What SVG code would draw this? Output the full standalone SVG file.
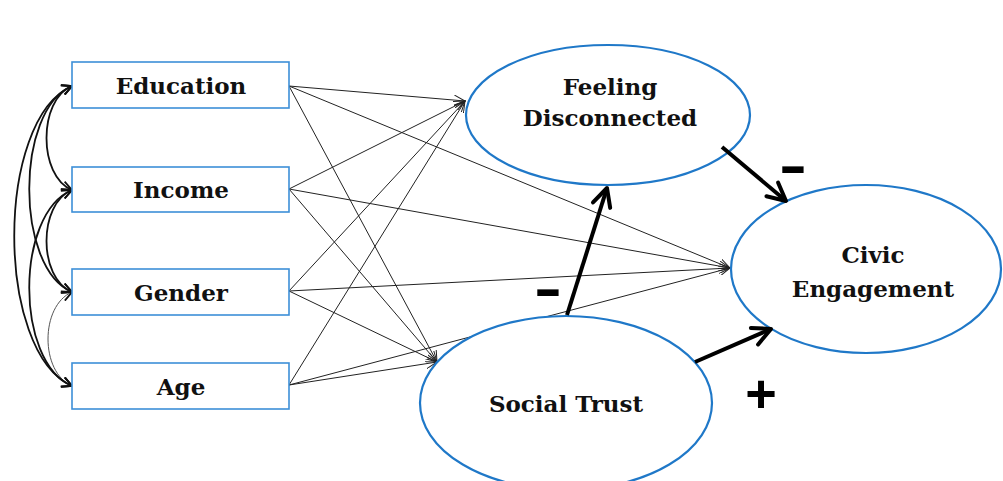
<svg xmlns="http://www.w3.org/2000/svg" width="1003" height="481" viewBox="0 0 1003 481">
<style>
.box{fill:#fff;stroke:#3d8fd8;stroke-width:1.6}
.ell{fill:#fff;stroke:#1f78c8;stroke-width:2.2}
.lbl{font-family:"DejaVu Serif","Liberation Serif",serif;font-weight:bold;font-size:23px;fill:#111;text-anchor:middle}
.thin{fill:none;stroke:#222;stroke-width:1;marker-end:url(#ah)}
.cov{fill:none;stroke:#111;stroke-width:1.8;marker-start:url(#ch);marker-end:url(#ch)}
.covt{fill:none;stroke:#555;stroke-width:1;marker-start:url(#ch);marker-end:url(#ch)}
.thick{fill:none;stroke:#000;stroke-width:4;marker-end:url(#th)}
.sign{font-family:"Liberation Sans",Arial,sans-serif;font-weight:bold;fill:#000;text-anchor:middle}
</style>
<defs>
<marker id="ah" viewBox="0 0 12 10" refX="11" refY="5" markerWidth="12" markerHeight="10" markerUnits="userSpaceOnUse" orient="auto">
<path d="M0,0 L11,5 L0,10" fill="none" stroke="#222" stroke-width="1"/>
</marker>
<marker id="ch" viewBox="0 0 12 12" refX="11" refY="6" markerWidth="12" markerHeight="12" markerUnits="userSpaceOnUse" orient="auto-start-reverse">
<path d="M1,1 L11,6 L1,11" fill="none" stroke="#111" stroke-width="1.8"/>
</marker>
<marker id="th" viewBox="0 0 24 24" refX="21" refY="12" markerWidth="24" markerHeight="24" markerUnits="userSpaceOnUse" orient="auto">
<path d="M3,3 L21,12 L3,21" fill="none" stroke="#000" stroke-width="4" stroke-linecap="round" stroke-linejoin="round"/>
</marker>
</defs>

<g id="connectors">
<path class="thin" d="M289,86 L465,101"/>
<path class="thin" d="M289,86 L437,362"/>
<path class="thin" d="M289,86 L730,268"/>
<path class="thin" d="M289,189 L465,101"/>
<path class="thin" d="M289,189 L437,362"/>
<path class="thin" d="M289,189 L730,268"/>
<path class="thin" d="M289,291 L465,101"/>
<path class="thin" d="M289,291 L437,362"/>
<path class="thin" d="M289,291 L730,268"/>
<path class="thin" d="M289,385 L465,101"/>
<path class="thin" d="M289,385 L437,362"/>
<path class="thin" d="M289,385 L730,268"/>
<path class="cov" d="M72,86 C38,100 38,176 72,190"/>
<path class="cov" d="M72,190 C38,204 38,278 72,292"/>
<path class="covt" d="M72,292 C40,306 40,372 72,386"/>
<path class="cov" d="M72,86 C15,110 15,268 72,292"/>
<path class="cov" d="M72,190 C15,214 15,362 72,386"/>
<path class="cov" d="M72,86 C-5,120 -5,352 72,386"/>
</g>

<g id="education"><rect class="box" x="72" y="62" width="217" height="46"/><text class="lbl" x="181" y="94">Education</text></g>
<g id="income"><rect class="box" x="72" y="167" width="217" height="45"/><text class="lbl" x="181" y="198">Income</text></g>
<g id="gender"><rect class="box" x="72" y="269" width="217" height="46"/><text class="lbl" x="181" y="301">Gender</text></g>
<g id="age"><rect class="box" x="72" y="363" width="217" height="46"/><text class="lbl" x="181" y="395">Age</text></g>

<g id="feeling"><ellipse class="ell" cx="608" cy="115" rx="142" ry="70"/><text class="lbl" x="610" y="95">Feeling</text><text class="lbl" x="610" y="126">Disconnected</text></g>
<g id="social-trust"><ellipse class="ell" cx="566" cy="403" rx="146" ry="87"/><text class="lbl" x="566" y="412">Social Trust</text></g>
<g id="civic"><ellipse class="ell" cx="866" cy="269" rx="135" ry="84"/><text class="lbl" x="873" y="263">Civic</text><text class="lbl" x="873" y="297">Engagement</text></g>

<g id="paths">
<path class="thick" d="M567,315 L607,188"/>
<path class="thick" d="M722,147 L786,201"/>
<path class="thick" d="M695,362 L771,329"/>
<text class="sign" font-size="56" transform="translate(548,307) scale(1.5,1)">-</text>
<text class="sign" font-size="56" transform="translate(793,184) scale(1.5,1)">-</text>
<text class="sign" x="761" y="412" font-size="54">+</text>
</g>
</svg>
